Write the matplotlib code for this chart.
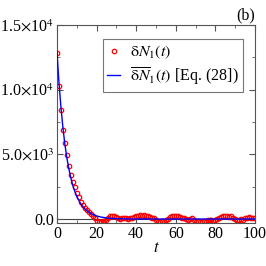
import numpy as np
import matplotlib as mpl
mpl.use('agg')
import matplotlib.pyplot as plt
from matplotlib.ticker import MultipleLocator, FixedLocator

# measured points, one per time step
t_pts = np.arange(0, 101)
dN_pts = [12850, 10300, 8400, 6900, 5850, 4950, 4080, 3380, 2900, 2460,
          2000, 1700, 1350, 1050, 850, 700, 550, 400, 200, 50,
          -150, -250, -200, -150, -200, -100, 50, 200, 250, 200,
          150, 50, 0, 50, 100, 50, 0, 50, 100, 150,
          200, 250, 300, 250, 300, 200, 250, 150, 100, 50,
          -100, -200, -250, -150, -200, -100, 0, 150, 200, 250,
          200, 250, 150, 100, 50, 0, -50, 0, 50, -100,
          -200, -150, -250, -200, -150, -200, -100, -50, -100, -150,
          -100, 0, 100, 150, 250, 200, 250, 150, 200, 100,
          0, -50, -100, 0, -50, 100, 50, 150, 100, 50, 100]

# Eq. (28) curve
t_fit = [0, 1, 2, 3, 4, 5, 6, 7, 8, 9, 10, 12, 14, 16, 18, 20, 22, 25, 30, 35, 40, 60, 80, 100]
dN_fit = [13000, 10600, 8700, 7100, 5800, 4750, 3900, 3200, 2600, 2150,
          1750, 1180, 790, 530, 355, 240, 160, 80, 25, 8, 0, 0, 0, 0]

plt.rcParams['font.family'] = 'serif'
plt.rcParams['font.serif'] = ['Liberation Serif']
plt.rcParams['mathtext.fontset'] = 'stix'

fig = plt.figure(figsize=(2.66, 2.66), dpi=100)
ax = fig.add_axes([0.214, 0.162, 0.745, 0.744])

ax.axhline(0, color='#444444', linewidth=0.8, zorder=1)
ax.plot(t_pts, dN_pts, linestyle='none', marker='o', markersize=3.2,
        markerfacecolor='none', markeredgecolor='red', markeredgewidth=0.9,
        label=r'$\mathrm{\delta} N_1(t)$', zorder=2)
ax.plot(t_fit, dN_fit, color='blue', linewidth=1.0,
        label=r'$\overline{\mathrm{\delta} N}_1(t)$ [Eq. (28])', zorder=3)

ax.set_xlim(0, 100)
ax.set_ylim(-300, 15000)
ax.xaxis.set_major_locator(MultipleLocator(20))
ax.xaxis.set_minor_locator(MultipleLocator(10))
ax.yaxis.set_major_locator(FixedLocator([0, 5000, 10000, 15000]))
ax.yaxis.set_minor_locator(FixedLocator([2500, 7500, 12500]))
ax.set_yticklabels(['0.0', r'5.0$\times$10$^3$', r'1.0$\times$10$^4$', r'1.5$\times$10$^4$'])
ax.tick_params(which='both', direction='in', top=True, right=True, labelsize=11.5,
               color='#555555', pad=2)
ax.tick_params(which='major', length=4)
ax.tick_params(which='minor', length=2.5)
for s in ax.spines.values():
    s.set_color('#555555')

ax.set_xlabel(r'$t$', fontsize=12, labelpad=-1)
ax.text(1.0, 1.01, '(b)', transform=ax.transAxes, ha='right', va='bottom', fontsize=11.5)

leg = ax.legend(loc='upper right', bbox_to_anchor=(0.94, 0.93), fontsize=11.5,
                frameon=True, fancybox=False, handlelength=0.8, handletextpad=0.6,
                borderpad=0.3, labelspacing=0.25, borderaxespad=0)
leg.get_frame().set_edgecolor('#555555')
leg.get_frame().set_linewidth(0.8)

plt.savefig('out.png', dpi=100)
